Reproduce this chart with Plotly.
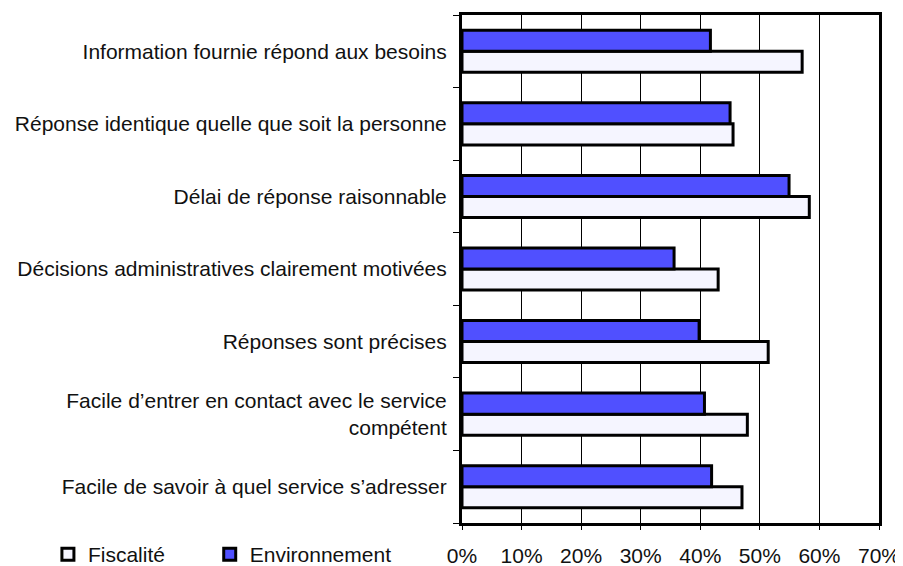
import plotly.graph_objects as go

categories = [
    "Information fournie répond aux besoins",
    "Réponse identique quelle que soit la personne",
    "Délai de réponse raisonnable",
    "Décisions administratives clairement motivées",
    "Réponses sont précises",
    "Facile d’entrer en contact avec le service<br>compétent",
    "Facile de savoir à quel service s’adresser",
]
fiscalite = [57.1, 45.5, 58.3, 43.0, 51.4, 47.9, 47.0]
environnement = [41.7, 45.0, 54.9, 35.6, 39.8, 40.7, 41.9]
x_ticks = [0, 10, 20, 30, 40, 50, 60, 70]
x_tick_labels = ["0%", "10%", "20%", "30%", "40%", "50%", "60%", "70%"]

FONT = "Liberation Sans, Arial, Helvetica, sans-serif"

fig = go.Figure()
fig.add_trace(go.Bar(
    y=categories, x=fiscalite, orientation="h", name="Fiscalité", legend="legend",
    marker=dict(color="#F5F5FF", line=dict(color="black", width=3)),
))
fig.add_trace(go.Bar(
    y=categories, x=environnement, orientation="h", name="Environnement", legend="legend2",
    marker=dict(color="#5050FF", line=dict(color="black", width=3)),
))

legend_common = dict(orientation="h", xanchor="left", y=-0.062, yanchor="middle",
                     font=dict(size=21), bgcolor="rgba(0,0,0,0)")

# page body has an 8px margin, so the figure is sized/offset to compensate
fig.update_layout(
    width=895, height=558,
    margin=dict(l=454, r=24, t=7, b=43, autoexpand=False),
    paper_bgcolor="white", plot_bgcolor="white",
    barmode="group", bargap=0.42, bargroupgap=0,
    font=dict(family=FONT, size=21, color="#111"),
    showlegend=True,
    legend=dict(x=-0.993, **legend_common),
    legend2=dict(x=-0.605, **legend_common),
    xaxis=dict(range=[0, 70], tickmode="array", tickvals=x_ticks, ticktext=x_tick_labels,
               showgrid=True, gridcolor="black", gridwidth=1, automargin=False,
               showline=True, linecolor="black", linewidth=3, mirror=True,
               ticks="outside", ticklen=4, tickcolor="black", tickwidth=1,
               ticklabelstandoff=8, zeroline=False),
    yaxis=dict(categoryorder="array", categoryarray=list(reversed(categories)),
               showgrid=False, showline=True, linecolor="black", linewidth=3, mirror=True,
               ticks="outside", tickson="boundaries", ticklen=6, tickcolor="black", tickwidth=1,
               ticklabelstandoff=8, automargin=False),
)

fig.write_html("out.html")
